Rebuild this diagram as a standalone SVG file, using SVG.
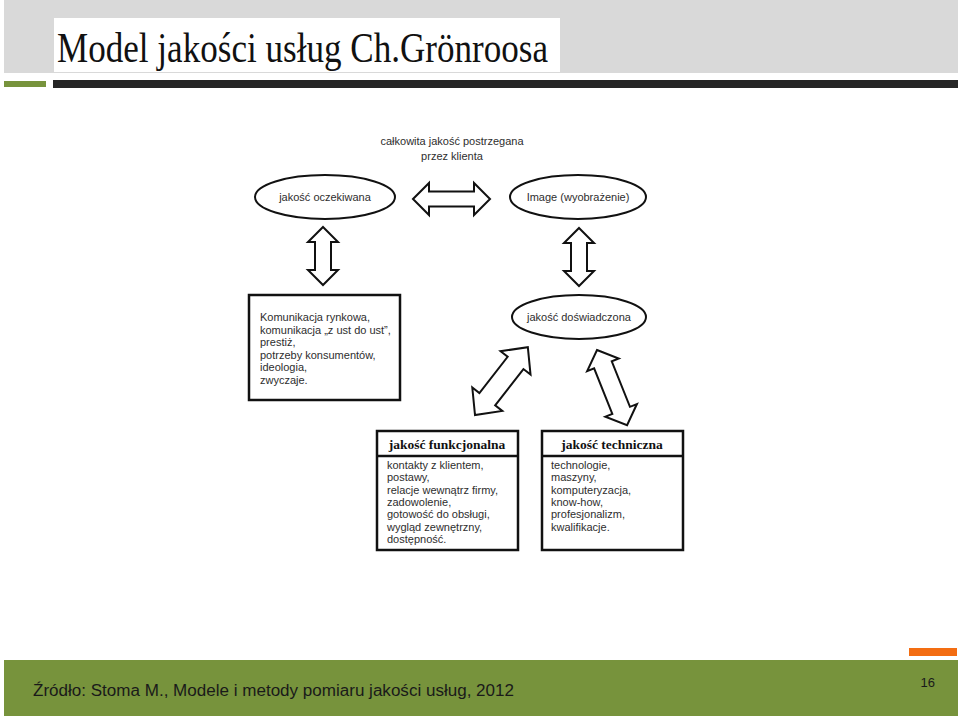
<svg xmlns="http://www.w3.org/2000/svg" width="960" height="716" viewBox="0 0 960 716">
<defs>
<style>
.t{font-family:"Liberation Sans",Arial,sans-serif;font-size:11px;fill:#2e2e2e}
.c{text-anchor:middle}
.h{font-family:"Liberation Serif","Times New Roman",serif;font-size:13.5px;font-weight:bold;fill:#111;text-anchor:middle}
.sh{fill:#fff;stroke:#111;stroke-width:2}
.box{fill:#fff;stroke:#111;stroke-width:2.5}
.arr{fill:#fff;stroke:#111;stroke-width:2;stroke-linejoin:miter}
</style>
</defs>
<rect x="0" y="0" width="960" height="716" fill="#fff"/>
<g id="header">
<rect x="4" y="0" width="954" height="73" fill="#d9d9d9"/>
<rect x="54" y="18" width="506" height="54" fill="#fff"/>
<text x="57" y="62" font-family="Liberation Serif,'Times New Roman',serif" font-size="43" fill="#111" textLength="491" lengthAdjust="spacingAndGlyphs">Model jakości usług Ch.Grönroosa</text>
<rect x="4" y="81" width="42" height="6" fill="#77933c"/>
<rect x="53" y="80" width="905" height="8" fill="#262626"/>
</g>
<g id="footer">
<rect x="909" y="648" width="48" height="8" fill="#f36d12"/>
<rect x="4" y="660" width="954" height="56" fill="#77933c"/>
<text x="33" y="696" font-family="Liberation Sans,Arial,sans-serif" font-size="16" fill="#1a1a1a" textLength="481" lengthAdjust="spacingAndGlyphs">Źródło: Stoma M., Modele i metody pomiaru jakości usług, 2012</text>
<text x="935" y="687" font-family="Liberation Sans,Arial,sans-serif" font-size="13" fill="#1a1a1a" text-anchor="end">16</text>
</g>
<g id="label-total">
<text class="t c" x="452" y="145">całkowita jakość postrzegana</text>
<text class="t c" x="452" y="160">przez klienta</text>
</g>
<g id="connectors">
<polygon class="arr" transform="translate(413,199)" points="0,0 16,-16 16,-7.5 61,-7.5 61,-16 77,0 61,16 61,7.5 16,7.5 16,16"/>
<polygon class="arr" transform="translate(323,227) rotate(90)" points="0,0 15,-15 15,-8 43,-8 43,-15 58,0 43,15 43,8 15,8 15,15"/>
<polygon class="arr" transform="translate(579,228) rotate(90)" points="0,0 15,-15 15,-8 43,-8 43,-15 58,0 43,15 43,8 15,8 15,15"/>
<polygon class="arr" transform="translate(475,415) rotate(-52.1)" points="0,0 20,-19 20,-10 66,-10 66,-19 86,0 66,19 66,10 20,10 20,19"/>
<polygon class="arr" transform="translate(597,350) rotate(68.2)" points="0,0 16,-17 16,-9.5 65,-9.5 65,-17 81,0 65,17 65,9.5 16,9.5 16,17"/>
</g>
<g id="node-oczekiwana">
<ellipse class="sh" cx="325" cy="197" rx="70" ry="22"/>
<text class="t c" x="325" y="201">jakość oczekiwana</text>
</g>
<g id="node-image">
<ellipse class="sh" cx="578" cy="197" rx="68" ry="22"/>
<text class="t c" x="578" y="201">Image (wyobrażenie)</text>
</g>
<g id="node-doswiadczona">
<ellipse class="sh" cx="579" cy="317" rx="67" ry="22"/>
<text class="t c" x="579" y="321">jakość doświadczona</text>
</g>
<g id="node-komunikacja">
<rect class="box" x="249" y="295" width="151" height="105"/>
<text class="t" x="260" y="321">Komunikacja rynkowa,</text>
<text class="t" x="260" y="333.5">komunikacja „z ust do ust”,</text>
<text class="t" x="260" y="346">prestiż,</text>
<text class="t" x="260" y="358.5">potrzeby konsumentów,</text>
<text class="t" x="260" y="371">ideologia,</text>
<text class="t" x="260" y="383.5">zwyczaje.</text>
</g>
<g id="node-funkcjonalna">
<rect class="box" x="377" y="431" width="141" height="119"/>
<line x1="377" y1="456" x2="518" y2="456" stroke="#111" stroke-width="2.5"/>
<text class="h" x="447" y="449">jakość funkcjonalna</text>
<text class="t" x="387" y="469">kontakty z klientem,</text>
<text class="t" x="387" y="481.3">postawy,</text>
<text class="t" x="387" y="493.6">relacje wewnątrz firmy,</text>
<text class="t" x="387" y="505.9">zadowolenie,</text>
<text class="t" x="387" y="518.2">gotowość do obsługi,</text>
<text class="t" x="387" y="530.5">wygląd zewnętrzny,</text>
<text class="t" x="387" y="542.8">dostępność.</text>
</g>
<g id="node-techniczna">
<rect class="box" x="542" y="431" width="141" height="119"/>
<line x1="542" y1="456" x2="683" y2="456" stroke="#111" stroke-width="2.5"/>
<text class="h" x="612" y="449">jakość techniczna</text>
<text class="t" x="551" y="469">technologie,</text>
<text class="t" x="551" y="481.3">maszyny,</text>
<text class="t" x="551" y="493.6">komputeryzacja,</text>
<text class="t" x="551" y="505.9">know-how,</text>
<text class="t" x="551" y="518.2">profesjonalizm,</text>
<text class="t" x="551" y="530.5">kwalifikacje.</text>
</g>
</svg>
